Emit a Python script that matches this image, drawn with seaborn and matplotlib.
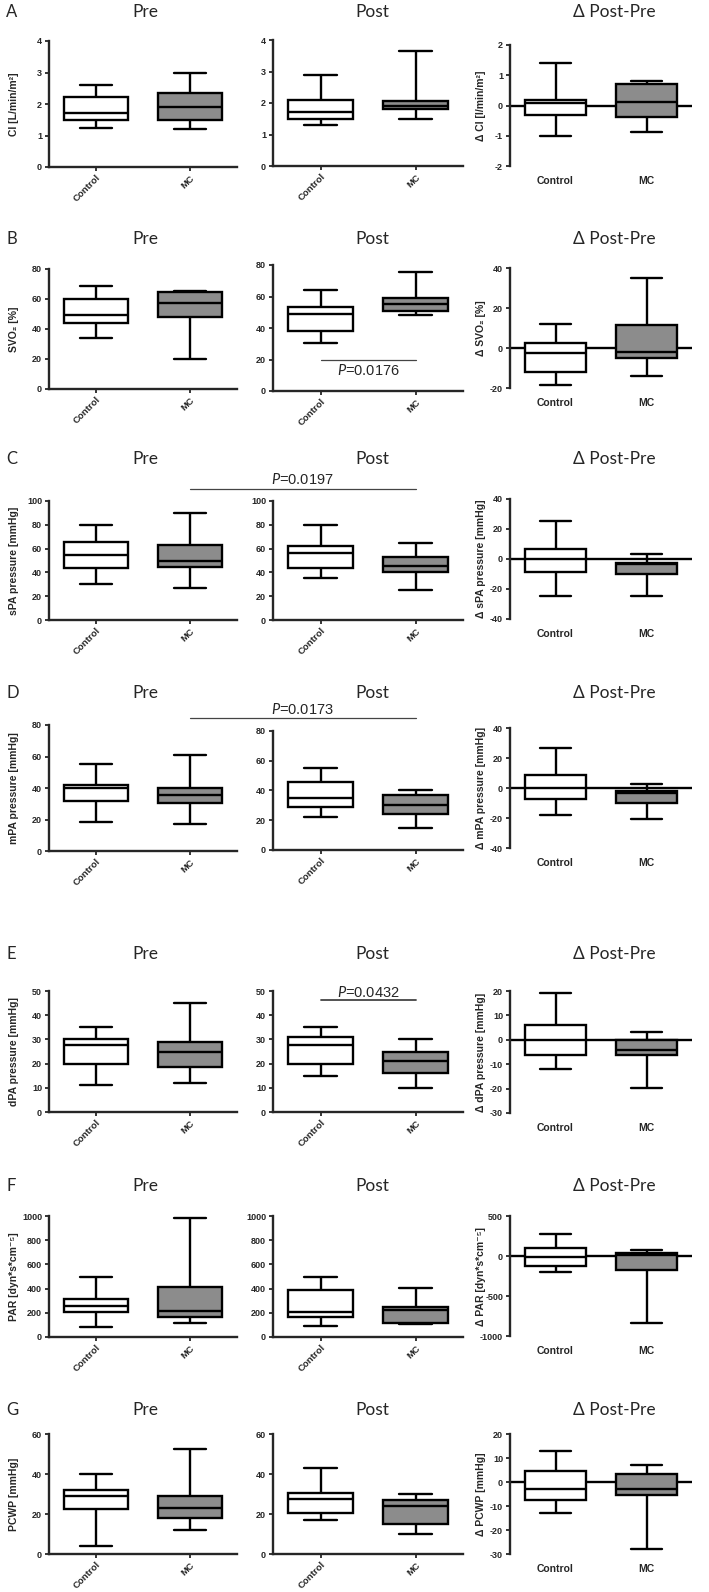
import numpy as np
import pandas as pd
import matplotlib
matplotlib.use("Agg")
import matplotlib.pyplot as plt
import seaborn as sns

W, H = 709, 1592

GROUPS = ["Control", "MC"]
PALETTE = {"Control": "white", "MC": "#8c8c8c"}

# five-number summaries: [min, q1, median, q3, max]
# each panel: [Control, MC]
ci_pre = [[1.25, 1.5, 1.7, 2.22, 2.6], [1.2, 1.48, 1.9, 2.35, 3.0]]
ci_post = [[1.3, 1.5, 1.7, 2.1, 2.9], [1.5, 1.8, 1.92, 2.05, 3.65]]
ci_delta = [[-1.0, -0.31, 0.08, 0.19, 1.4], [-0.89, -0.37, 0.1, 0.72, 0.81]]

svo2_pre = [[34, 43.8, 49.3, 60.2, 69], [20.3, 48, 57.3, 64.5, 65.5]]
svo2_post = [[30.3, 38.1, 49.2, 53.4, 64.4], [48.3, 50.8, 55, 59.2, 75.3]]
svo2_delta = [[-18.7, -12, -2.5, 2.5, 12], [-14, -5, -2, 11.5, 34.8]]

spa_pre = [[30, 44, 55, 65.4, 80], [27, 44.7, 50, 62.8, 90]]
spa_post = [[35, 44, 56.4, 62, 80], [25, 40, 45, 52.8, 65]]
spa_delta = [[-24.7, -8.4, 0, 6.4, 25.3], [-24.7, -10, -3, -2.4, 3.1]]

mpa_pre = [[18.6, 32, 39.8, 42, 55], [16.9, 30.3, 35.8, 40.2, 60.7]]
mpa_post = [[22, 29, 35, 45.6, 55.2], [15, 24, 30, 37, 40]]
mpa_delta = [[-18, -7, 0, 8.6, 27], [-20.8, -9.7, -3, -2, 2.4]]

dpa_pre = [[11, 20, 27.5, 30, 35], [12, 18.4, 25, 28.8, 45]]
dpa_post = [[15, 20, 27.5, 31, 35], [10, 16, 21, 24.9, 30]]
dpa_delta = [[-12, -6.2, 0, 5.9, 19], [-19.9, -6.4, -4, 0, 3]]

par_pre = [[83, 204, 254, 318, 500], [113, 168, 218, 411, 985]]
par_post = [[91, 166, 210, 387, 494], [108, 119, 224, 246, 406]]
par_delta = [[-196, -121, -8, 100, 271], [-833, -171, 17, 37, 71]]

pcwp_pre = [[4, 22.6, 29.1, 32.2, 39.8], [11.9, 18.2, 22.8, 28.9, 52.7]]
pcwp_post = [[16.9, 20.3, 27.4, 30.4, 43], [9.9, 14.9, 24, 26.8, 29.8]]
pcwp_delta = [[-13, -7.3, -3, 4.7, 13], [-28, -5.5, -3, 3.3, 7]]

ROW_LETTERS = ["A", "B", "C", "D", "E", "F", "G"]
ROW_DATA = [
    (ci_pre, ci_post, ci_delta),
    (svo2_pre, svo2_post, svo2_delta),
    (spa_pre, spa_post, spa_delta),
    (mpa_pre, mpa_post, mpa_delta),
    (dpa_pre, dpa_post, dpa_delta),
    (par_pre, par_post, par_delta),
    (pcwp_pre, pcwp_post, pcwp_delta),
]
YLABELS = [
    ("CI [L/min/m²]", "Δ CI [l/min/m²]"),
    ("SVO₂ [%]", "Δ SVO₂ [%]"),
    ("sPA pressure [mmHg]", "Δ sPA pressure [mmHg]"),
    ("mPA pressure [mmHg]", "Δ mPA pressure [mmHg]"),
    ("dPA pressure [mmHg]", "Δ dPA pressure [mmHg]"),
    ("PAR [dyn*s*cm⁻⁵]", "Δ PAR [dyn*s*cm⁻⁵]"),
    ("PCWP [mmHg]", "Δ PCWP [mmHg]"),
]
# (abs ticks, delta ticks)
YTICKS = [
    ([0, 1, 2, 3, 4], [-2, -1, 0, 1, 2]),
    ([0, 20, 40, 60, 80], [-20, 0, 20, 40]),
    ([0, 20, 40, 60, 80, 100], [-40, -20, 0, 20, 40]),
    ([0, 20, 40, 60, 80], [-40, -20, 0, 20, 40]),
    ([0, 10, 20, 30, 40, 50], [-30, -20, -10, 0, 10, 20]),
    ([0, 200, 400, 600, 800, 1000], [-1000, -500, 0, 500]),
    ([0, 20, 40, 60], [-30, -20, -10, 0, 10, 20]),
]

# layout in pixels
COL_X = [(49, 237), (273, 463), (510, 692)]
# (pre top, pre bottom, post top, post bottom, delta top, delta bottom, title y)
ROW_Y = [
    (41, 167, 40, 166, 45, 166, 12),
    (269, 389, 265, 391, 268, 388, 239),
    (501, 620, 501, 620, 499, 619, 459),
    (725, 851, 731, 850, 728, 848, 693),
    (991, 1112, 991, 1112, 991, 1113, 954),
    (1216, 1337, 1216, 1337, 1216, 1336, 1186),
    (1434, 1554, 1434, 1554, 1434, 1554, 1410),
]
TITLE_X = [145, 372, 614]

sns.set_style("ticks")
plt.rcParams["font.family"] = ["Liberation Sans Narrow", "Liberation Sans", "DejaVu Sans"]
plt.rcParams["mathtext.fontset"] = "custom"
plt.rcParams["mathtext.it"] = "Lato:italic"
plt.rcParams["mathtext.rm"] = "Lato"
TITLE_FONT = ["Lato", "DejaVu Sans"]
LW = 1.7


def px_axes(fig, xs, top, bot):
    x0, x1 = xs
    return fig.add_axes([x0 / W, 1 - bot / H, (x1 - x0) / W, (bot - top) / H])


def draw_panel(ax, stats, ticks, ylabel, delta):
    df = pd.DataFrame({"group": np.repeat(GROUPS, 5),
                       "value": np.concatenate(stats)})
    sns.boxplot(data=df, x="group", y="value", hue="group", order=GROUPS,
                hue_order=GROUPS, palette=PALETTE, whis=(0, 100), width=0.68,
                linecolor="black", linewidth=LW, legend=False, ax=ax)
    ax.set_xlim(-0.5, 1.5)
    ax.set_ylim(ticks[0], ticks[-1])
    ax.set_yticks(ticks)
    ax.set_yticklabels([str(t) for t in ticks], fontsize=6.5, fontweight="bold")
    ax.set_xlabel("")
    ax.set_ylabel(ylabel or "", fontsize=7.5, fontweight="bold")
    for s in ["top", "right"]:
        ax.spines[s].set_visible(False)
    ax.spines["left"].set_linewidth(LW)
    ax.spines["bottom"].set_linewidth(LW)
    ax.tick_params(axis="y", width=1.3, length=3, pad=2)
    ax.set_xticks([0, 1])
    if delta:
        ax.spines["bottom"].set_visible(False)
        ax.axhline(0, color="black", lw=LW, zorder=0.5)
        ax.set_xticklabels(GROUPS, fontsize=7.5, fontweight="bold")
        ax.tick_params(axis="x", length=0, pad=7)
    else:
        ax.set_xticklabels(GROUPS, fontsize=6.8, fontweight="bold",
                           rotation=45, ha="right", rotation_mode="anchor")
        ax.tick_params(axis="x", width=1.3, length=3, pad=1.5)


def fig_xy(fig, ax, x, y):
    disp = ax.transData.transform((x, y))
    return fig.transFigure.inverted().transform(disp)


fig = plt.figure(figsize=(W / 100, H / 100), dpi=100)

axes_rows = []
for r, (pre, post, dlt) in enumerate(ROW_DATA):
    pt, pb, qt, qb, dt, db, ty = ROW_Y[r]
    ax_pre = px_axes(fig, COL_X[0], pt, pb)
    ax_post = px_axes(fig, COL_X[1], qt, qb)
    ax_d = px_axes(fig, COL_X[2], dt, db)
    draw_panel(ax_pre, pre, YTICKS[r][0], YLABELS[r][0], False)
    draw_panel(ax_post, post, YTICKS[r][0], None, False)
    draw_panel(ax_d, dlt, YTICKS[r][1], YLABELS[r][1], True)
    ax_pre.yaxis.set_label_coords((19 - COL_X[0][0]) / (COL_X[0][1] - COL_X[0][0]), 0.5)
    ax_d.yaxis.set_label_coords((486 - COL_X[2][0]) / (COL_X[2][1] - COL_X[2][0]), 0.5)
    axes_rows.append((ax_pre, ax_post, ax_d))

    fig.text(6 / W, 1 - ty / H, ROW_LETTERS[r], family=TITLE_FONT,
             fontsize=12, ha="left", va="center")
    for tx, t in zip(TITLE_X, ["Pre", "Post", "Δ Post-Pre"]):
        fig.text(tx / W, 1 - ty / H, t, family=TITLE_FONT, fontsize=12.5,
                 ha="center", va="center")

# significance annotations
P_COLOR = "#444444"
P_SIZE = 10.5
# B: Post panel, Control vs MC
ax = axes_rows[1][1]
ax.plot([0, 1], [20, 20], color=P_COLOR, lw=0.9, clip_on=False)
ax.text(0.5, 13.0, "$\\it{P}$=0.0176", ha="center", va="center", fontsize=P_SIZE)
# E: Post panel, Control vs MC
ax = axes_rows[4][1]
ax.plot([0, 1], [46.3, 46.3], color=P_COLOR, lw=1.3, clip_on=False)
ax.text(0.5, 49.5, "$\\it{P}$=0.0432", ha="center", va="center", fontsize=P_SIZE)
# C and D: MC Pre vs MC Post across panels
for r, label, ly, ty in [(2, "$\\it{P}$=0.0197", 489, 480),
                         (3, "$\\it{P}$=0.0173", 718, 709)]:
    ax_pre, ax_post, _ = axes_rows[r]
    x0 = fig_xy(fig, ax_pre, 1, 0)[0]
    x1 = fig_xy(fig, ax_post, 1, 0)[0]
    fig.add_artist(plt.Line2D([x0, x1], [1 - ly / H, 1 - ly / H],
                              color=P_COLOR, lw=0.9))
    fig.text((x0 + x1) / 2, 1 - ty / H, label, ha="center", va="center",
             fontsize=P_SIZE)

fig.savefig("out.png", dpi=100)
